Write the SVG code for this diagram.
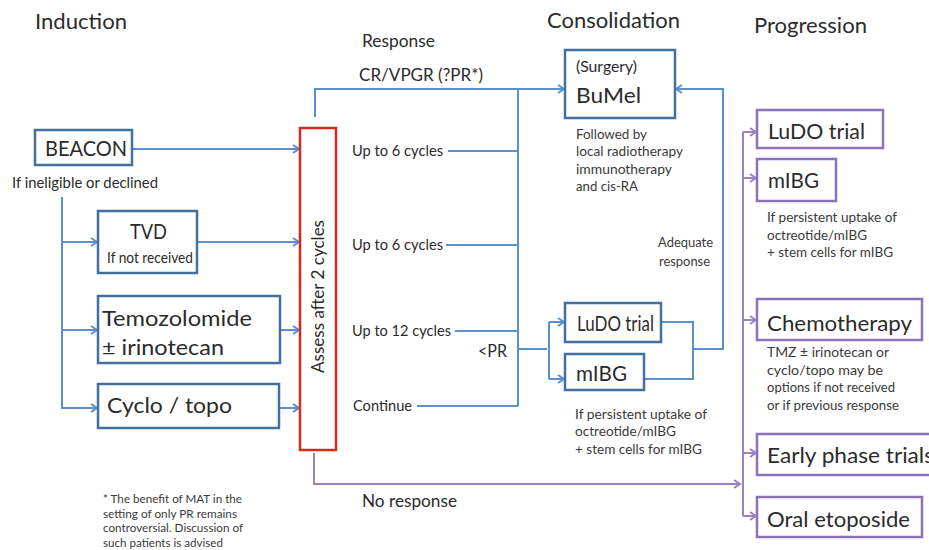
<svg xmlns="http://www.w3.org/2000/svg" width="929" height="550" viewBox="0 0 929 550">
  <style>
    text { font-family: "Lato", "Liberation Sans", sans-serif; fill: #2b2b2b; }
    .title { font-size: 22px; }
    .big { font-size: 22px; }
    .mid { font-size: 16.5px; }
    .lab { font-size: 14.5px; }
    .note { font-size: 13.5px; fill: #3a3a3a; }
    .foot { font-size: 11.5px; fill: #3a3a3a; }
    .box { fill: #ffffff; stroke: #41719c; stroke-width: 2.5; }
    .pbox { fill: #ffffff; stroke: #8c72b8; stroke-width: 2.5; }
    .assess { fill: #ffffff; stroke: #d42a1e; stroke-width: 2.5; }
    .ln { fill: none; stroke: #5b8fcf; stroke-width: 2; }
    .pln { fill: none; stroke: #9a82c4; stroke-width: 2; }
  </style>
  <defs>
    <marker id="arrB" markerWidth="10" markerHeight="10" refX="8" refY="5" orient="auto" markerUnits="userSpaceOnUse">
      <path d="M2,1 L8,5 L2,9" fill="none" stroke="#5b8fcf" stroke-width="2"/>
    </marker>
    <marker id="arrP" markerWidth="10" markerHeight="10" refX="8" refY="5" orient="auto" markerUnits="userSpaceOnUse">
      <path d="M2,1 L8,5 L2,9" fill="none" stroke="#9a82c4" stroke-width="2"/>
    </marker>
  </defs>

  <!-- phase headings -->
  <text class="title" x="35" y="29" textLength="92" lengthAdjust="spacingAndGlyphs">Induction</text>
  <text class="title" x="547" y="28" textLength="133" lengthAdjust="spacingAndGlyphs">Consolidation</text>
  <text class="title" x="754" y="33" textLength="113" lengthAdjust="spacingAndGlyphs">Progression</text>

  <!-- connectors -->
  <g id="connectors">
    <!-- induction into assessment -->
    <path class="ln" d="M132,149 H299" marker-end="url(#arrB)"/>
    <path class="ln" d="M62,197 V408 H97" marker-end="url(#arrB)"/>
    <path class="ln" d="M62,242 H97" marker-end="url(#arrB)"/>
    <path class="ln" d="M62,330 H97" marker-end="url(#arrB)"/>
    <path class="ln" d="M197,242 H299" marker-end="url(#arrB)"/>
    <path class="ln" d="M280,330 H299" marker-end="url(#arrB)"/>
    <path class="ln" d="M279,408 H299" marker-end="url(#arrB)"/>
    <!-- response to consolidation -->
    <path class="ln" d="M315,117 V89 H564" marker-end="url(#arrB)"/>
    <path class="ln" d="M518,89 V406"/>
    <path class="ln" d="M448,151 H518"/>
    <path class="ln" d="M446,245 H518"/>
    <path class="ln" d="M455,331 H518"/>
    <path class="ln" d="M417,406 H518"/>
    <path class="ln" d="M518,349 H547"/>
    <path class="ln" d="M549,322 V379"/>
    <path class="ln" d="M549,322 H564" marker-end="url(#arrB)"/>
    <path class="ln" d="M549,379 H564" marker-end="url(#arrB)"/>
    <!-- adequate response back to BuMel -->
    <path class="ln" d="M661,322 H693 V379 H644"/>
    <path class="ln" d="M693,349 H723 V89 H676" marker-end="url(#arrB)"/>
    <!-- no response to progression -->
    <path class="pln" d="M314,453 V484 H740" marker-end="url(#arrP)"/>
    <path class="pln" d="M743,132 V516"/>
    <path class="pln" d="M743,132 H756" marker-end="url(#arrP)"/>
    <path class="pln" d="M743,178 H756" marker-end="url(#arrP)"/>
    <path class="pln" d="M743,320 H756" marker-end="url(#arrP)"/>
    <path class="pln" d="M743,453 H756" marker-end="url(#arrP)"/>
    <path class="pln" d="M743,516 H756" marker-end="url(#arrP)"/>
  </g>

  <!-- induction -->
  <g id="beacon">
    <rect class="box" x="35" y="130" width="97" height="35"/>
    <text class="big" x="45" y="156" font-size="20" textLength="82" lengthAdjust="spacingAndGlyphs">BEACON</text>
  </g>
  <text class="lab" x="12" y="188" textLength="146" lengthAdjust="spacingAndGlyphs">If ineligible or declined</text>
  <g id="tvd">
    <rect class="box" x="98" y="211" width="99" height="62"/>
    <text class="big" x="130" y="239" font-size="21" textLength="37" lengthAdjust="spacingAndGlyphs">TVD</text>
    <text class="lab" x="107" y="263" font-size="13.5" textLength="86" lengthAdjust="spacingAndGlyphs">If not received</text>
  </g>
  <g id="temozolomide">
    <rect class="box" x="98" y="296" width="182" height="67"/>
    <text class="big" x="102" y="326" textLength="150" lengthAdjust="spacingAndGlyphs">Temozolomide</text>
    <text class="big" x="102" y="355" textLength="122" lengthAdjust="spacingAndGlyphs">± irinotecan</text>
  </g>
  <g id="cyclo-topo">
    <rect class="box" x="98" y="384" width="181" height="44"/>
    <text class="big" x="107" y="413" textLength="125" lengthAdjust="spacingAndGlyphs">Cyclo / topo</text>
  </g>

  <!-- assessment -->
  <g id="assess">
    <rect class="assess" x="300" y="128" width="36" height="322"/>
    <text class="mid" transform="translate(324,373) rotate(-90)" textLength="153" lengthAdjust="spacingAndGlyphs">Assess after 2 cycles</text>
  </g>

  <!-- response labels -->
  <text class="mid" x="362" y="47" textLength="73" lengthAdjust="spacingAndGlyphs">Response</text>
  <text class="mid" x="359" y="81" textLength="124" lengthAdjust="spacingAndGlyphs">CR/VPGR (?PR*)</text>
  <text class="lab" x="352" y="156" textLength="91" lengthAdjust="spacingAndGlyphs">Up to 6 cycles</text>
  <text class="lab" x="352" y="250" textLength="91" lengthAdjust="spacingAndGlyphs">Up to 6 cycles</text>
  <text class="lab" x="352" y="336" textLength="99" lengthAdjust="spacingAndGlyphs">Up to 12 cycles</text>
  <text class="lab" x="353" y="411" textLength="59" lengthAdjust="spacingAndGlyphs">Continue</text>
  <text class="mid" x="478" y="357" textLength="29" lengthAdjust="spacingAndGlyphs">&lt;PR</text>
  <text class="mid" x="362" y="507" textLength="95" lengthAdjust="spacingAndGlyphs">No response</text>

  <!-- consolidation -->
  <g id="bumel">
    <rect class="box" x="565" y="50" width="110" height="68"/>
    <text class="lab" x="576" y="72" textLength="61" lengthAdjust="spacingAndGlyphs">(Surgery)</text>
    <text class="big" x="576" y="103" textLength="65" lengthAdjust="spacingAndGlyphs">BuMel</text>
  </g>
  <g id="bumel-note">
    <text class="note" x="576" y="139" textLength="71" lengthAdjust="spacingAndGlyphs">Followed by</text>
    <text class="note" x="576" y="156" textLength="107" lengthAdjust="spacingAndGlyphs">local radiotherapy</text>
    <text class="note" x="576" y="174" textLength="96" lengthAdjust="spacingAndGlyphs">immunotherapy</text>
    <text class="note" x="576" y="191" textLength="62" lengthAdjust="spacingAndGlyphs">and cis-RA</text>
  </g>
  <text class="note" x="658" y="247" textLength="55" lengthAdjust="spacingAndGlyphs">Adequate</text>
  <text class="note" x="659" y="266" textLength="51" lengthAdjust="spacingAndGlyphs">response</text>
  <g id="ludo-consolidation">
    <rect class="box" x="565" y="303" width="96" height="39"/>
    <text class="big" x="577" y="331" font-size="19.5" textLength="77" lengthAdjust="spacingAndGlyphs">LuDO trial</text>
  </g>
  <g id="mibg-consolidation">
    <rect class="box" x="565" y="354" width="79" height="36"/>
    <text class="big" x="576" y="381" textLength="51" lengthAdjust="spacingAndGlyphs">mIBG</text>
  </g>
  <g id="mibg-consolidation-note">
    <text class="note" x="575" y="419" textLength="132" lengthAdjust="spacingAndGlyphs">If persistent uptake of</text>
    <text class="note" x="575" y="436" textLength="101" lengthAdjust="spacingAndGlyphs">octreotide/mIBG</text>
    <text class="note" x="575" y="454" textLength="127" lengthAdjust="spacingAndGlyphs">+ stem cells for mIBG</text>
  </g>

  <!-- progression -->
  <g id="ludo-progression">
    <rect class="pbox" x="757" y="110" width="126" height="38"/>
    <text class="big" x="768" y="139" textLength="97" lengthAdjust="spacingAndGlyphs">LuDO trial</text>
  </g>
  <g id="mibg-progression">
    <rect class="pbox" x="757" y="159" width="79" height="42"/>
    <text class="big" x="768" y="188" textLength="51" lengthAdjust="spacingAndGlyphs">mIBG</text>
  </g>
  <g id="mibg-progression-note">
    <text class="note" x="767" y="222" textLength="130" lengthAdjust="spacingAndGlyphs">If persistent uptake of</text>
    <text class="note" x="767" y="240" textLength="100" lengthAdjust="spacingAndGlyphs">octreotide/mIBG</text>
    <text class="note" x="767" y="257" textLength="126" lengthAdjust="spacingAndGlyphs">+ stem cells for mIBG</text>
  </g>
  <g id="chemotherapy">
    <rect class="pbox" x="757" y="299" width="165" height="41"/>
    <text class="big" x="767" y="331" textLength="145" lengthAdjust="spacingAndGlyphs">Chemotherapy</text>
  </g>
  <g id="chemotherapy-note">
    <text class="note" x="767" y="357" textLength="122" lengthAdjust="spacingAndGlyphs">TMZ ± irinotecan or</text>
    <text class="note" x="767" y="375" textLength="116" lengthAdjust="spacingAndGlyphs">cyclo/topo may be</text>
    <text class="note" x="767" y="392" textLength="128" lengthAdjust="spacingAndGlyphs">options if not received</text>
    <text class="note" x="767" y="410" textLength="132" lengthAdjust="spacingAndGlyphs">or if previous response</text>
  </g>
  <g id="early-phase">
    <rect class="pbox" x="757" y="434" width="180" height="41"/>
    <text class="big" x="767" y="463" textLength="167" lengthAdjust="spacingAndGlyphs">Early phase trials</text>
  </g>
  <g id="oral-etoposide">
    <rect class="pbox" x="757" y="497" width="165" height="40"/>
    <text class="big" x="767" y="527" textLength="143" lengthAdjust="spacingAndGlyphs">Oral etoposide</text>
  </g>

  <!-- footnote -->
  <g id="footnote">
    <text class="foot" x="103" y="503" textLength="139" lengthAdjust="spacingAndGlyphs">* The benefit of MAT in the</text>
    <text class="foot" x="103" y="518" textLength="134" lengthAdjust="spacingAndGlyphs">setting of only PR remains</text>
    <text class="foot" x="103" y="532" textLength="140" lengthAdjust="spacingAndGlyphs">controversial. Discussion of</text>
    <text class="foot" x="103" y="547" textLength="120" lengthAdjust="spacingAndGlyphs">such patients is advised</text>
  </g>
</svg>
